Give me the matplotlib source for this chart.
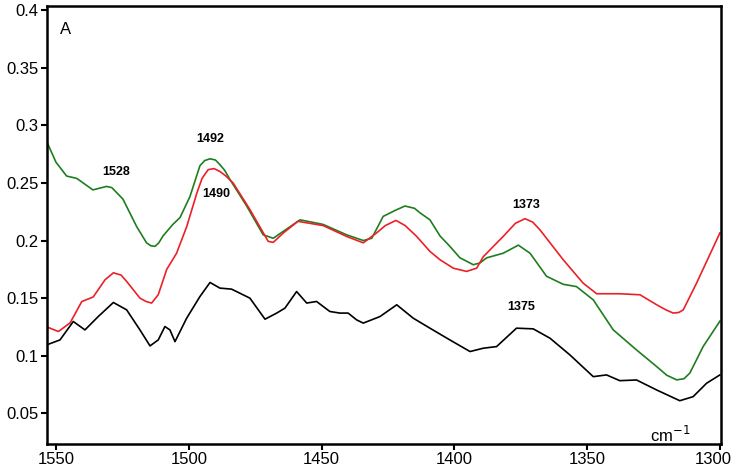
import numpy as np
import matplotlib.pyplot as plt
import matplotlib.transforms as mtransforms

plt.rcParams['font.family'] = ['Liberation Sans', 'DejaVu Sans']

# green spectrum
green_x = [1553.5, 1550.0, 1546.0, 1542.2, 1536.1, 1531.0, 1529.0, 1524.8, 1519.6, 1515.9,
           1514.3, 1512.7, 1511.3, 1509.7, 1506.0, 1503.3, 1499.6, 1495.8, 1494.0, 1492.0,
           1490.0, 1488.3, 1486.5, 1484.5, 1478.2, 1472.0, 1468.2, 1464.4, 1458.1, 1449.4,
           1440.6, 1434.3, 1431.1, 1426.8, 1422.0, 1418.6, 1415.0, 1412.9, 1409.2, 1405.4,
           1401.7, 1397.9, 1394.1, 1392.9, 1390.4, 1387.8, 1381.6, 1375.9, 1371.5, 1365.3,
           1359.0, 1354.0, 1347.7, 1340.2, 1331.4, 1323.8, 1320.0, 1316.3, 1313.5, 1311.3,
           1306.3, 1300.0]
green_y = [0.286, 0.268, 0.256, 0.254, 0.244, 0.247, 0.246, 0.236, 0.212, 0.198,
           0.1955, 0.195, 0.198, 0.204, 0.214, 0.220, 0.238, 0.265, 0.2695, 0.271,
           0.270, 0.266, 0.261, 0.253, 0.230, 0.205, 0.202, 0.208, 0.218, 0.214,
           0.205, 0.200, 0.202, 0.221, 0.2265, 0.230, 0.228, 0.224, 0.218, 0.204,
           0.195, 0.185, 0.1805, 0.179, 0.1805, 0.185, 0.189, 0.196, 0.189, 0.169,
           0.162, 0.160, 0.1485, 0.1225, 0.105, 0.0905, 0.083, 0.079, 0.080, 0.085,
           0.108, 0.130]

# red spectrum
red_x = [1553.5, 1549.1, 1544.7, 1540.3, 1536.0, 1531.5, 1528.4, 1525.5, 1523.4, 1518.4,
         1516.0, 1514.0, 1511.5, 1508.3, 1504.6, 1500.8, 1497.0, 1495.0, 1492.7, 1490.5,
         1488.3, 1486.0, 1483.3, 1477.0, 1470.1, 1468.2, 1464.4, 1458.9, 1449.4, 1440.6,
         1434.3, 1429.3, 1426.0, 1422.0, 1418.5, 1414.2, 1409.2, 1405.4, 1400.4, 1395.4,
         1391.6, 1389.1, 1381.6, 1377.0, 1373.4, 1370.5, 1367.8, 1359.0, 1351.5, 1346.4,
         1337.7, 1330.1, 1323.8, 1320.5, 1317.6, 1315.5, 1313.8, 1308.8, 1300.0]
red_y = [0.125, 0.121, 0.1285, 0.147, 0.151, 0.166, 0.172, 0.170, 0.1645, 0.150,
         0.147, 0.1457, 0.153, 0.175, 0.189, 0.212, 0.241, 0.254, 0.2616, 0.2625,
         0.260, 0.256, 0.250, 0.227, 0.1993, 0.1984, 0.2066, 0.2167, 0.213, 0.2036,
         0.198, 0.2066, 0.213, 0.2175, 0.213, 0.2036, 0.1906, 0.1833, 0.176, 0.1732,
         0.176, 0.186, 0.2036, 0.215, 0.219, 0.216, 0.2094, 0.1833, 0.163, 0.1538,
         0.1538, 0.1529, 0.1442, 0.140, 0.137, 0.1375, 0.1398, 0.163, 0.2066]

# black spectrum
black_x = [1553.5, 1548.5, 1543.5, 1539.1, 1534.1, 1528.4, 1523.4, 1518.4, 1514.6, 1511.5,
           1509.0, 1507.1, 1505.2, 1500.8, 1495.8, 1492.0, 1488.3, 1483.9, 1477.0, 1471.3,
           1466.9, 1463.8, 1459.4, 1455.6, 1451.9, 1446.9, 1443.1, 1440.0, 1436.8, 1434.3,
           1428.0, 1421.7, 1415.5, 1409.2, 1401.7, 1394.1, 1389.1, 1384.1, 1376.6, 1370.3,
           1364.0, 1356.5, 1347.7, 1342.7, 1337.7, 1331.4, 1323.8, 1315.1, 1310.1, 1305.0,
           1300.0]
black_y = [0.1094, 0.1137, 0.1297, 0.1224, 0.134, 0.1462, 0.1398, 0.1224, 0.1085, 0.1137,
           0.1253, 0.1224, 0.1122, 0.1326, 0.1514, 0.1636, 0.1587, 0.1578, 0.150, 0.1317,
           0.137, 0.1413, 0.1557, 0.1457, 0.1471, 0.1384, 0.137, 0.137, 0.1311, 0.1283,
           0.134, 0.1442, 0.1326, 0.1239, 0.1137, 0.1036, 0.1065, 0.1079, 0.1239, 0.1233,
           0.1152, 0.1007, 0.0818, 0.0833, 0.0783, 0.0789, 0.0702, 0.0609, 0.0644, 0.0761,
           0.0833]

peak_labels = ['1528', '1492', '1490', '1373', '1375']
peak_x = [1527.4, 1491.8, 1489.8, 1372.8, 1374.7]
peak_y = [0.2594, 0.2886, 0.2408, 0.2312, 0.1427]

fig = plt.figure(figsize=(7.33, 4.74), dpi=100)
ax = fig.add_axes([0.0641, 0.0633, 0.9195, 0.924])

ax.plot(green_x, green_y, color='#1f7d1f', lw=1.2)
ax.plot(red_x, red_y, color='#ec2027', lw=1.2)
ax.plot(black_x, black_y, color='black', lw=1.2)

for lab, x, y in zip(peak_labels, peak_x, peak_y):
    ax.text(x, y, lab, fontsize=9, fontweight='bold', ha='center', va='center')

ax.text(1546.4, 0.3834, 'A', fontsize=12, ha='center', va='center')
ax.text(1318.8, 0.0311, 'cm$^{-1}$', fontsize=12, ha='center', va='center')

ax.set_xlim(1553.4, 1299.6)
ax.set_ylim(0.0233, 0.4037)
ax.set_xticks([1550, 1500, 1450, 1400, 1350, 1300])
ax.set_yticks([0.05, 0.1, 0.15, 0.2, 0.25, 0.3, 0.35, 0.4])
ax.set_yticklabels(['0.05', '0.1', '0.15', '0.2', '0.25', '0.3', '0.35', '0.4'])
ax.tick_params(direction='out', length=4, width=1.5, labelsize=12, pad=2)
for s in ax.spines.values():
    s.set_linewidth(1.8)

# nudge the last x label so it stays inside the figure
last = ax.get_xticklabels()[-1]
last.set_transform(last.get_transform() + mtransforms.ScaledTranslation(-7 / 100, 0, fig.dpi_scale_trans))

plt.savefig('out.png')
